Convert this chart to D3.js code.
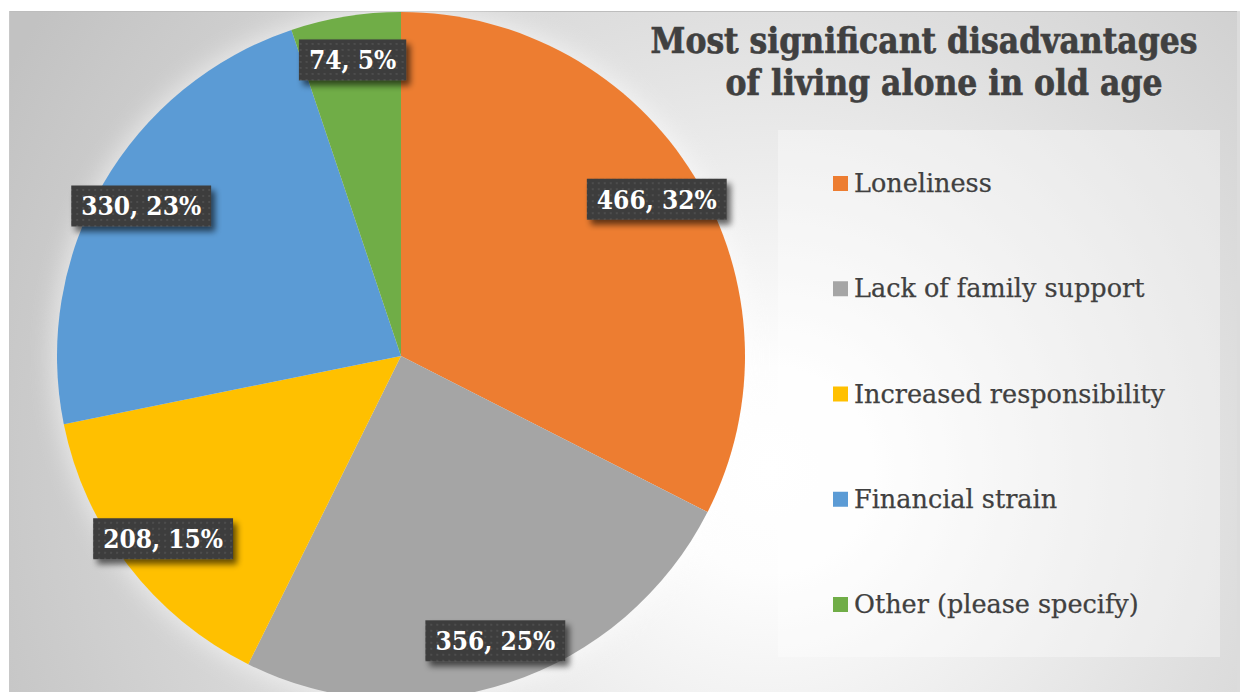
<!DOCTYPE html>
<html>
<head>
<meta charset="utf-8">
<script src="https://cdn.jsdelivr.net/npm/d3@7/dist/d3.min.js"></script>
<style>
  html, body { margin: 0; padding: 0; background: #ffffff; }
  svg { display: block; }
</style>
</head>
<body>
<svg id="chart" width="1240" height="692"></svg>
<script>
// Survey answers: most significant disadvantages of living alone in old age
const categories = ["Loneliness", "Lack of family support", "Increased responsibility", "Financial strain", "Other (please specify)"];
const counts = [466, 356, 208, 330, 74];
const percentLabels = ["32%", "25%", "15%", "23%", "5%"];
const sliceColors = ["#ED7D31", "#A5A5A5", "#FFC000", "#5B9BD5", "#70AD47"];
const titleLines = ["Most significant disadvantages", "of living alone in old age"];

const W = 1240, H = 692;
const svg = d3.select("#chart");
const defs = svg.append("defs");

// background panel gradient
const bg = defs.append("radialGradient").attr("id", "bgGrad")
  .attr("gradientUnits", "userSpaceOnUse")
  .attr("cx", 770).attr("cy", 470).attr("r", 860);
bg.append("stop").attr("offset", "0").attr("stop-color", "#ffffff");
bg.append("stop").attr("offset", "0.12").attr("stop-color", "#fdfdfd");
bg.append("stop").attr("offset", "0.55").attr("stop-color", "#dedede");
bg.append("stop").attr("offset", "1").attr("stop-color", "#c2c2c2");

// soft glow around the pie
defs.append("filter").attr("id", "glow").attr("x", "-20%").attr("y", "-20%").attr("width", "140%").attr("height", "140%")
  .append("feGaussianBlur").attr("stdDeviation", 12);

// drop shadow for the data-label boxes
const sh = defs.append("filter").attr("id", "shadow").attr("x", "-30%").attr("y", "-40%").attr("width", "160%").attr("height", "200%");
sh.append("feGaussianBlur").attr("in", "SourceAlpha").attr("stdDeviation", 3).attr("result", "b");
sh.append("feOffset").attr("in", "b").attr("dx", 4).attr("dy", 5).attr("result", "o");
sh.append("feComponentTransfer").attr("in", "o").attr("result", "s")
  .append("feFuncA").attr("type", "linear").attr("slope", 0.6);
const mg = sh.append("feMerge");
mg.append("feMergeNode").attr("in", "s");
mg.append("feMergeNode").attr("in", "SourceGraphic");

// dotted texture for label boxes
const pat = defs.append("pattern").attr("id", "dots").attr("patternUnits", "userSpaceOnUse")
  .attr("width", 6).attr("height", 6);
pat.append("rect").attr("width", 6).attr("height", 6).attr("fill", "#3d3d3d");
pat.append("rect").attr("x", 1).attr("y", 1).attr("width", 2).attr("height", 2).attr("fill", "#4d4d4d");

// panel
svg.append("rect").attr("x", 9).attr("y", 11).attr("width", 1228).attr("height", H - 11)
  .attr("fill", "url(#bgGrad)");
svg.append("line").attr("x1", 9).attr("x2", 1237).attr("y1", 11.5).attr("y2", 11.5)
  .attr("stroke", "#bdbdbd").attr("stroke-width", 1);
svg.append("line").attr("x1", 9.5).attr("x2", 9.5).attr("y1", 11).attr("y2", H)
  .attr("stroke", "#c8c8c8").attr("stroke-width", 1);
svg.append("rect").attr("x", 1237).attr("y", 11).attr("width", 3).attr("height", H - 11).attr("fill", "#dcdcdc");

// legend panel
svg.append("rect").attr("x", 778).attr("y", 130).attr("width", 442).attr("height", 527)
  .attr("fill", "#ffffff").attr("fill-opacity", 0.35);

// pie
const cx = 401, cy = 356, R = 344, labelR = 300;
const pie = d3.pie().sort(null).value(d => d)(counts);
const arc = d3.arc().innerRadius(0).outerRadius(R);
const labelArc = d3.arc().innerRadius(labelR).outerRadius(labelR);

const g = svg.append("g").attr("transform", `translate(${cx},${cy})`);
g.append("circle").attr("r", R + 4).attr("fill", "#ffffff").attr("opacity", 0.55).attr("filter", "url(#glow)");
g.selectAll("path.slice").data(pie).join("path")
  .attr("class", "slice")
  .attr("d", arc)
  .attr("fill", (d, i) => sliceColors[i]);

// data labels: "count, percent"
const labelFont = "'DejaVu Serif Condensed', 'DejaVu Serif', serif";
const lg = g.selectAll("g.lbl").data(pie).join("g")
  .attr("class", "lbl")
  .attr("transform", d => `translate(${labelArc.centroid(d)})`);
const boxes = lg.append("rect").attr("fill", "url(#dots)").attr("filter", "url(#shadow)");
const texts = lg.append("text")
  .attr("text-anchor", "middle").attr("dy", "0.36em")
  .attr("font-family", labelFont).attr("font-weight", "bold").attr("font-size", 26)
  .attr("fill", "#ffffff")
  .text((d, i) => `${counts[i]}, ${percentLabels[i]}`);
texts.each(function(d, i) {
  const w = this.getComputedTextLength();
  d3.select(boxes.nodes()[i])
    .attr("x", -w / 2 - 10).attr("y", -20.5)
    .attr("width", w + 20).attr("height", 41);
});

// title
const titleFont = "'DejaVu Serif Condensed', 'DejaVu Serif', serif";
const title = svg.append("text").attr("text-anchor", "middle")
  .attr("font-family", titleFont).attr("font-weight", "bold").attr("font-size", 35)
  .attr("fill", "#404040").attr("stroke", "#404040").attr("stroke-width", 0.6);
title.append("tspan").attr("x", 924).attr("y", 53).text(titleLines[0]);
title.append("tspan").attr("x", 944).attr("y", 95).text(titleLines[1]);

// legend
const legY = d3.scalePoint().domain(categories).range([192, 613]);
const leg = svg.append("g").selectAll("g").data(categories).join("g")
  .attr("transform", d => `translate(833,${legY(d)})`);
leg.append("rect").attr("x", 0).attr("y", -16).attr("width", 15).attr("height", 15)
  .attr("fill", (d, i) => sliceColors[i]);
leg.append("text").attr("x", 21).attr("y", 0)
  .attr("font-family", "'DejaVu Serif', serif").attr("font-size", 25.5)
  .attr("fill", "#404040").attr("stroke", "#404040").attr("stroke-width", 0.25)
  .text(d => d);
</script>
</body>
</html>
